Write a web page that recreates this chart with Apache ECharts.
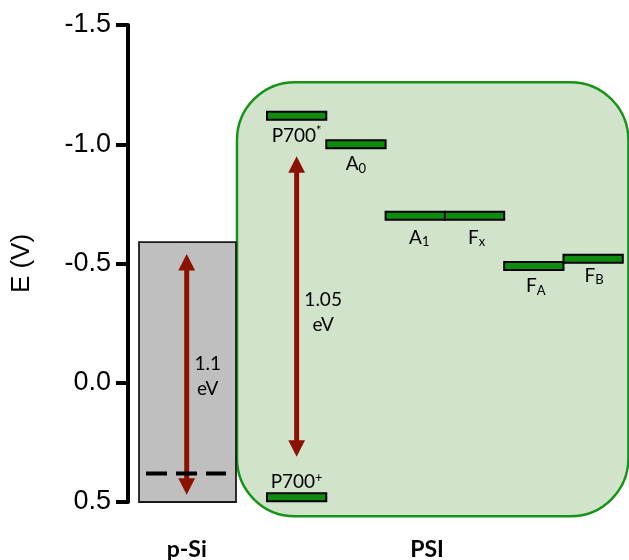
<!DOCTYPE html>
<html>
<head>
<meta charset="utf-8">
<script src="https://cdn.jsdelivr.net/npm/echarts@6/dist/echarts.min.js"></script>
<style>
  html, body { margin: 0; padding: 0; background: #ffffff; }
  #chart { width: 629px; height: 560px; }
</style>
</head>
<body>
<div id="chart"></div>
<script>
// Potential axis (V); negative values at the top
const E_MIN = -1.5;
const E_MAX = 0.5;
const E_STEP = 0.5;

// PSI electron-transfer cofactors: slot along the chain and redox potential (V)
const levelNames = ['P700*', 'A0', 'A1', 'Fx', 'FA', 'FB', 'P700+'];
const levelSlots = [0, 1, 2, 3, 4, 5, 0];
const levelPotentials = [-1.12, -1.00, -0.70, -0.70, -0.49, -0.52, 0.48];
const levelTexts = [
  '{t|P700}{sup|*}', '{t|A}{sub|0}', '{t|A}{sub|1}', '{t|F}{sub|x}',
  '{t|F}{sub|A}', '{t|F}{sub|B}', '{t|P700}{sup|+}'
];

// p-Si block: upper and lower edge (V), plus the dashed level inside it
const siBand = [-0.59, 0.5];
const siDashed = 0.38;

// Excitation arrows: [slot, upper tip (V), lower tip (V)]
const siArrow = [-1.354, -0.54, 0.47];
const psiArrow = [0.5, -0.95, 0.31];
const gapTexts = ['1.1\neV', '1.05\neV'];

// Group captions under the plot
const groupNames = ['p-Si', 'PSI'];
const groupSlots = [-1.354, 2.7];

// ---- layout (slot units along x) ----
const X_MIN = -2.344, X_MAX = 6.105;
const SI_BOX_X = [-2.158, -0.523];
const SI_DASH_X = [-2.040, -0.691];
const PSI_BOX = { x0: -0.506, x1: 6.095, top: -1.26, bottom: 0.56, r: 58 };
const LABEL_DX = [0, 0, 4, 2, 2, 1, 0];
const LABEL_DY = [20, 20, 22, 22, 20, 17, -15];
const GAP_TEXT_OFF = [[21, 2], [26.5, 5.5]];

const BAR_GREEN = '#0f8c10';
const BOX_GREEN = '#d1e3cb';
const BOX_EDGE = '#169416';
const ARROW_RED = '#8c1200';
const LABEL_FONT = 'Lato, "Open Sans", sans-serif';
const AXIS_FONT = '"Liberation Sans", Arial, sans-serif';

const RICH = {
  t:   { fontSize: 19, fontFamily: LABEL_FONT, fill: '#000', lineHeight: 22 },
  sup: { fontSize: 13, fontFamily: LABEL_FONT, fill: '#000', verticalAlign: 'top', lineHeight: 12 },
  sub: { fontSize: 13, fontFamily: LABEL_FONT, fill: '#000', verticalAlign: 'bottom', lineHeight: 8 }
};

function renderPanels(params, api) {
  const si0 = api.coord([SI_BOX_X[0], api.value(0)]);
  const si1 = api.coord([SI_BOX_X[1], api.value(1)]);
  const p0 = api.coord([PSI_BOX.x0, PSI_BOX.top]);
  const p1 = api.coord([PSI_BOX.x1, PSI_BOX.bottom]);
  return {
    type: 'group',
    children: [
      { type: 'rect',
        shape: { x: p0[0], y: p0[1], width: p1[0] - p0[0], height: p1[1] - p0[1], r: PSI_BOX.r },
        style: { fill: BOX_GREEN, stroke: BOX_EDGE, lineWidth: 2.5 } },
      { type: 'rect',
        shape: { x: si0[0], y: si0[1], width: si1[0] - si0[0], height: si1[1] - si0[1] },
        style: { fill: '#bfbfbf', stroke: '#1a1a1a', lineWidth: 1.8 } }
    ]
  };
}

function renderArrow(params, api) {
  const i = params.dataIndex;
  const x = api.value(0);
  const top = api.coord([x, api.value(1)]);
  const bot = api.coord([x, api.value(2)]);
  const hl = 16.5, hw = 8.4;
  const mid = (top[1] + bot[1]) / 2;
  return {
    type: 'group',
    children: [
      { type: 'line',
        shape: { x1: top[0], y1: top[1] + hl - 1, x2: bot[0], y2: bot[1] - hl + 1 },
        style: { stroke: ARROW_RED, lineWidth: 5 } },
      { type: 'polygon',
        shape: { points: [[top[0], top[1]], [top[0] - hw, top[1] + hl], [top[0] + hw, top[1] + hl]] },
        style: { fill: ARROW_RED } },
      { type: 'polygon',
        shape: { points: [[bot[0], bot[1]], [bot[0] - hw, bot[1] - hl], [bot[0] + hw, bot[1] - hl]] },
        style: { fill: ARROW_RED } },
      { type: 'text',
        x: top[0] + GAP_TEXT_OFF[i][0], y: mid + GAP_TEXT_OFF[i][1],
        style: { text: gapTexts[i], fontSize: 19, fontFamily: LABEL_FONT, fill: '#000',
                 lineHeight: 25, align: 'center', verticalAlign: 'middle' } }
    ]
  };
}

function renderLevel(params, api) {
  const i = params.dataIndex;
  const s = api.value(0), e = api.value(1);
  const a = api.coord([s, e]);
  const b = api.coord([s + 1, e]);
  const cx = (a[0] + b[0]) / 2;
  return {
    type: 'group',
    children: [
      { type: 'rect',
        shape: { x: a[0], y: a[1] - 4, width: b[0] - a[0], height: 8 },
        style: { fill: BAR_GREEN, stroke: '#000', lineWidth: 2 } },
      { type: 'text',
        x: cx + LABEL_DX[i], y: a[1] + LABEL_DY[i],
        style: { text: levelTexts[i], rich: RICH, align: 'center', verticalAlign: 'middle' } }
    ]
  };
}

function renderCaption(params, api) {
  const p = api.coord([api.value(0), E_MAX]);
  return {
    type: 'text',
    x: p[0], y: p[1] + 48,
    style: { text: groupNames[params.dataIndex], fontSize: 23, fontWeight: 'bold',
             fontFamily: LABEL_FONT, fill: '#000', align: 'center', verticalAlign: 'middle' }
  };
}

const chart = echarts.init(document.getElementById('chart'), null, { renderer: 'canvas' });

chart.setOption({
  animation: false,
  backgroundColor: '#ffffff',
  grid: { left: 128, right: 0, top: 25, bottom: 58, outerBoundsMode: 'none' },
  xAxis: { type: 'value', min: X_MIN, max: X_MAX, show: false },
  yAxis: {
    type: 'value',
    position: 'left',
    min: E_MIN, max: E_MAX, interval: E_STEP,
    inverse: true,
    name: 'E (V)',
    nameLocation: 'middle',
    nameRotate: 90,
    nameGap: 93,
    nameTextStyle: { fontSize: 26, fontFamily: AXIS_FONT, color: '#000' },
    axisLine: { show: true, onZero: false, lineStyle: { color: '#000', width: 4 } },
    axisTick: { show: true, length: 12, lineStyle: { color: '#000', width: 4 } },
    axisLabel: {
      fontSize: 27, fontFamily: AXIS_FONT, color: '#000', margin: 17,
      formatter: v => v.toFixed(1)
    },
    splitLine: { show: false }
  },
  series: [
    { type: 'custom', renderItem: renderPanels, data: [[siBand[0], siBand[1]]], silent: true },
    { type: 'custom', renderItem: renderArrow, data: [siArrow, psiArrow], silent: true },
    {
      type: 'line', symbol: 'none', silent: true,
      data: [[SI_DASH_X[0], siDashed], [SI_DASH_X[1], siDashed]],
      lineStyle: { color: '#000', width: 4, type: [21, 9], cap: 'butt' }
    },
    {
      type: 'custom', renderItem: renderLevel, silent: true,
      data: levelNames.map((n, i) => ({ name: n, value: [levelSlots[i], levelPotentials[i]] }))
    },
    {
      type: 'custom', renderItem: renderCaption, silent: true,
      data: groupNames.map((n, i) => ({ name: n, value: [groupSlots[i], E_MAX] }))
    }
  ]
});
</script>
</body>
</html>
